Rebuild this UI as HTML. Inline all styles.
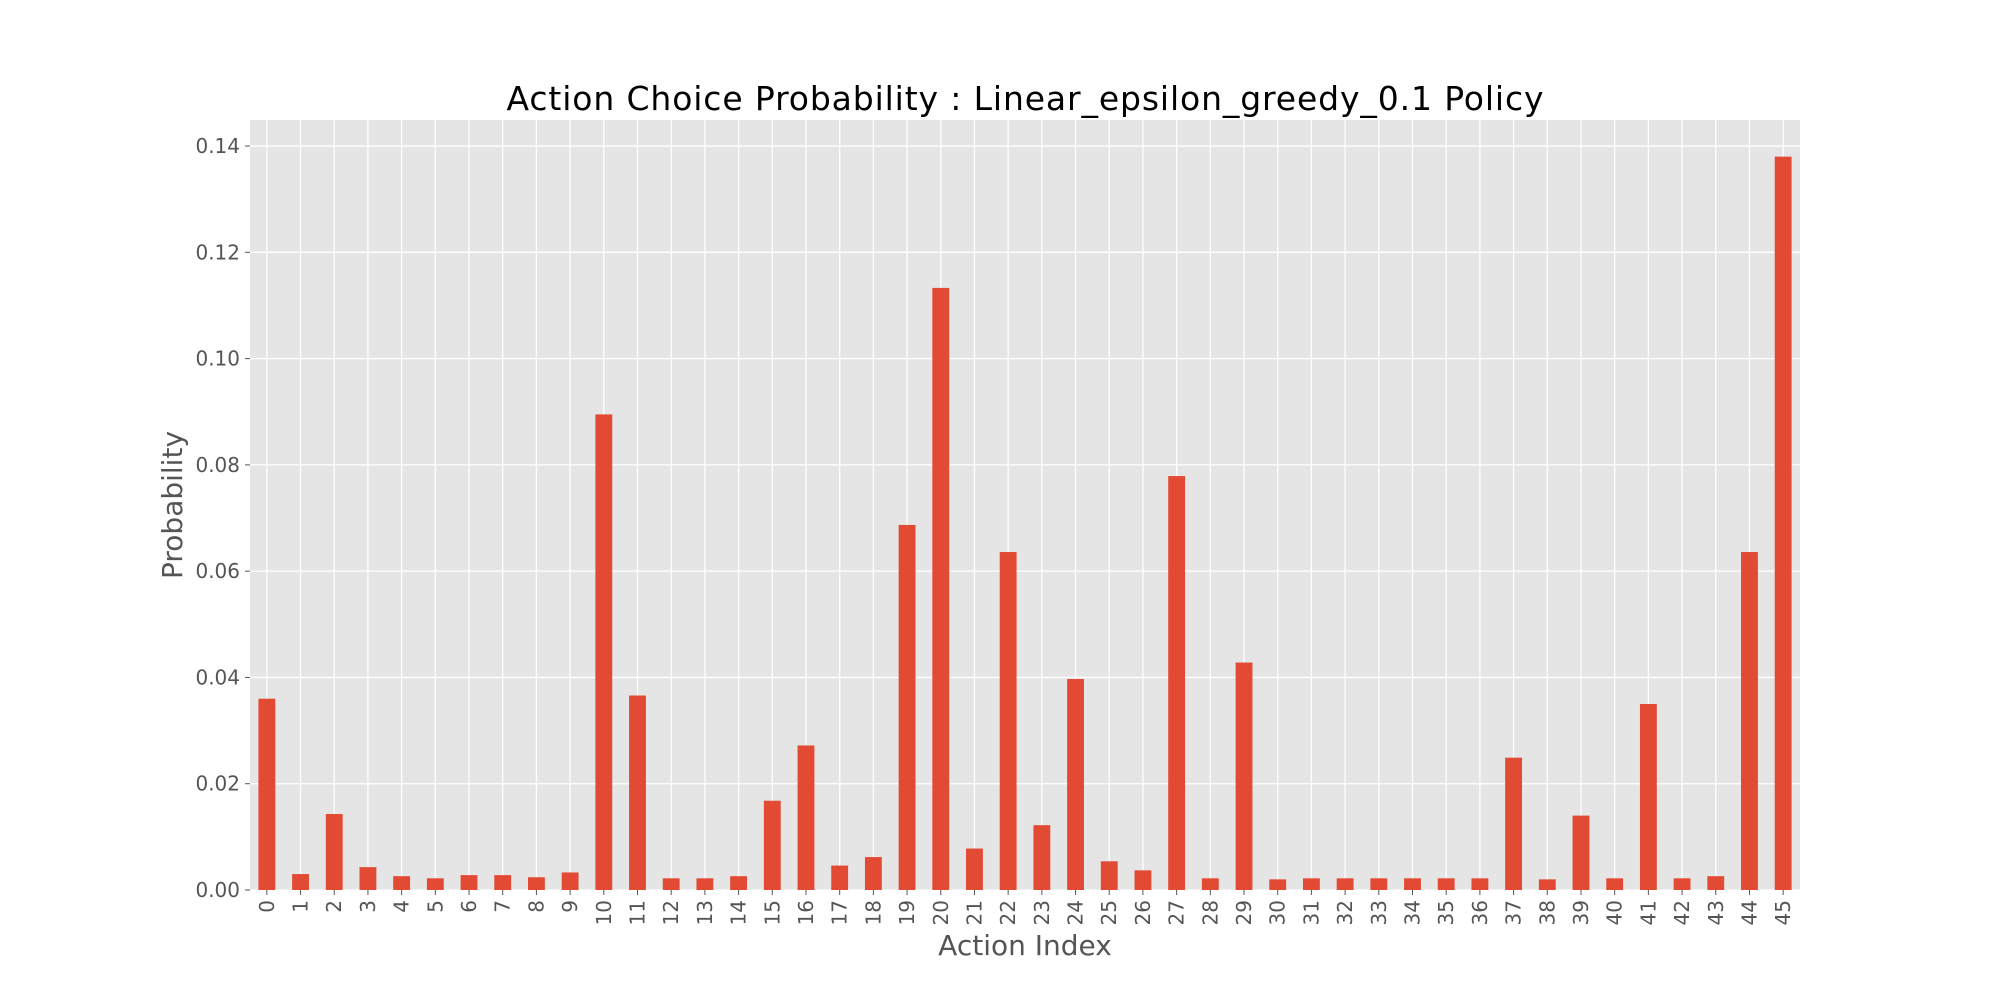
<!DOCTYPE html>
<html><head><meta charset="utf-8"><style>
html,body{margin:0;padding:0;background:#fff;}
svg{display:block;font-family:"DejaVu Sans","Liberation Sans",sans-serif;}
</style></head><body>
<svg id="chart" width="2000" height="1000" viewBox="0 0 2000 1000">
<rect x="0" y="0" width="2000" height="1000" fill="#fff"/>
<rect x="250" y="120" width="1550" height="770" fill="#E5E5E5"/>
<g id="grid"></g><g id="bars"></g><g id="yticks"></g><g id="xticks"></g>
<text x="1025" y="110" text-anchor="middle" font-size="33" fill="#000" textLength="1037">Action Choice Probability : Linear_epsilon_greedy_0.1 Policy</text>
<text x="1025" y="955" text-anchor="middle" font-size="28" fill="#555">Action Index</text>
<text transform="translate(182,505) rotate(-90)" text-anchor="middle" font-size="28" fill="#555">Probability</text>
</svg>
<script>
const categories = Array.from({length:46},(_,i)=>String(i));
const values = [0.036,0.003,0.0143,0.0043,0.0026,0.0022,0.0028,0.0028,0.0024,0.0033,0.0895,0.0366,0.0022,0.0022,0.0026,0.0168,0.0272,0.0046,0.0062,0.0687,0.1133,0.0078,0.0636,0.0122,0.0397,0.0054,0.0037,0.0779,0.0022,0.0428,0.002,0.0022,0.0022,0.0022,0.0022,0.0022,0.0022,0.0249,0.002,0.014,0.0022,0.035,0.0022,0.0026,0.0636,0.138];
const yTicks = [0,0.02,0.04,0.06,0.08,0.10,0.12,0.14];
const yTickLabels = ["0.00","0.02","0.04","0.06","0.08","0.10","0.12","0.14"];

const NS="http://www.w3.org/2000/svg";
const L=250,R=1800,T=120,B=890;
const ymax=Math.max(...values)*1.05;
const y=v=>B-(v/ymax)*(B-T);
const step=(R-L)/categories.length;
const x=i=>L+(i+0.5)*step;
function mk(tag,attrs,parent){const e=document.createElementNS(NS,tag);for(const k in attrs)e.setAttribute(k,attrs[k]);document.getElementById(parent).appendChild(e);return e;}
yTicks.forEach((t,i)=>{
  const g=mk('line',{x1:L,x2:R,y1:y(t),y2:y(t),stroke:'#fff','stroke-width':1.3},'grid');
  
  
  const tk=mk('line',{x1:L-5,x2:L,y1:y(t),y2:y(t),stroke:'#555','stroke-width':1},'yticks');
  
  
  const tx=mk('text',{x:L-10,y:y(t)+7,'text-anchor':'end','font-size':20,fill:'#555'},'yticks');
  tx.textContent=yTickLabels[i];
  
  
});
categories.forEach((c,i)=>{
  const g=mk('line',{x1:x(i),x2:x(i),y1:T,y2:B,stroke:'#fff','stroke-width':1.3},'grid');
  
  
  const b=mk('rect',{x:x(i)-step*0.25,width:step*0.5,y:y(values[i]),height:B-y(values[i]),fill:'#E24A33'},'bars');
  
  
  const tk=mk('line',{x1:x(i),x2:x(i),y1:B,y2:B+5,stroke:'#555','stroke-width':1},'xticks');
  
  
  const tx=mk('text',{transform:`translate(${x(i)+7},${B+10}) rotate(-90)`,'text-anchor':'end','font-size':20,fill:'#555'},'xticks');
  tx.textContent=c;
  
  
});
</script>
</body></html>
